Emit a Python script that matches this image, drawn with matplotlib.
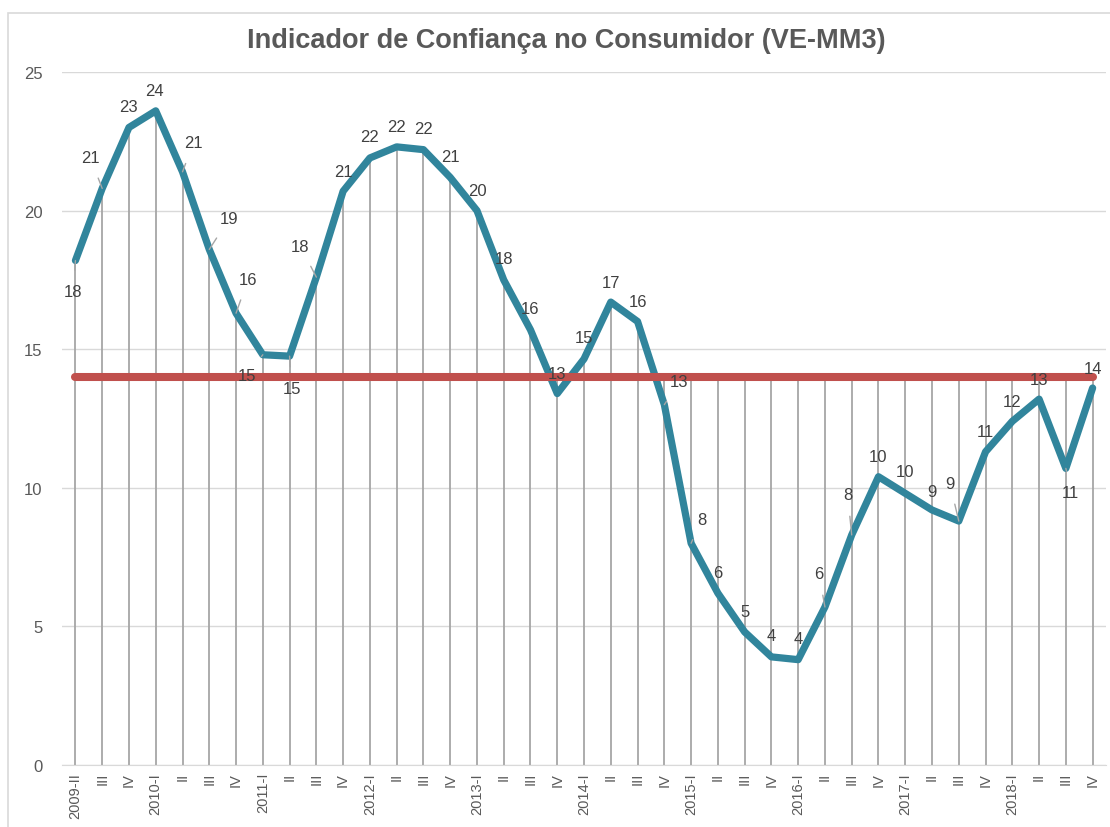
import matplotlib.pyplot as plt
from matplotlib.patches import Rectangle

plt.rcParams['font.family'] = ['Liberation Sans', 'DejaVu Sans']

quarters = ['2009-II', 'III', 'IV',
            '2010-I', 'II', 'III', 'IV',
            '2011-I', 'II', 'III', 'IV',
            '2012-I', 'II', 'III', 'IV',
            '2013-I', 'II', 'III', 'IV',
            '2014-I', 'II', 'III', 'IV',
            '2015-I', 'II', 'III', 'IV',
            '2016-I', 'II', 'III', 'IV',
            '2017-I', 'II', 'III', 'IV',
            '2018-I', 'II', 'III', 'IV']
icc = [18.2, 20.8, 23.0, 23.6, 21.4, 18.6, 16.3, 14.8, 14.75, 17.6,
       20.7, 21.9, 22.3, 22.2, 21.2, 20.0, 17.5, 15.7, 13.4, 14.65,
       16.7, 16.0, 13.0, 8.0, 6.2, 4.8, 3.9, 3.8, 5.7, 8.3,
       10.4, 9.8, 9.2, 8.8, 11.3, 12.4, 13.2, 10.7, 13.6]
media = 14.0

# label offsets in pixels (dx, dy) and whether a leader line is drawn
lab_dx = [-2, -12, -1, -1, 11, 20, 12, -16, 2, -16,
          0, 0, 0, 0, 0, 0, 0, 0, 0, 0,
          0, 0, 15, 11, 0, 0, 0, 0, -6, -4,
          0, 0, 0, -9, 0, 0, 0, 5, 0]
lab_dy = [-31, 31, 21, 20, 29, 31, 34, -21, -32, 31,
          20, 21, 20, 21, 21, 20, 21, 21, 20, 21,
          20, 20, 23, 24, 21, 20, 21, 21, 33, 40,
          20, 22, 18, 38, 20, 20, 20, -24, 20]
leader = [1, 1, 0, 0, 1, 1, 1, 1, 1, 1,
          0, 0, 0, 0, 0, 0, 0, 0, 0, 0,
          0, 0, 1, 1, 0, 0, 0, 0, 1, 1,
          0, 0, 0, 1, 0, 0, 0, 1, 0]

fig = plt.figure(figsize=(11.1, 8.28), dpi=100)
ax = fig.add_axes([0.0559, 0.0749, 0.9405, 0.8369])

x = list(range(len(icc)))
tops = [max(v, media) for v in icc]

ax.vlines(x, 0, tops, color='#A6A6A6', lw=1.3, zorder=1)
ax.plot(x, icc, color='#31859C', lw=5.2, solid_joinstyle='round',
        solid_capstyle='round', zorder=3)
ax.plot([x[0], x[-1]], [media, media], color='#C0504D', lw=5.8,
        solid_capstyle='round', zorder=4)

for i, v in enumerate(icc):
    if leader[i]:
        ax.annotate(str(int(round(v))), xy=(i, v), xytext=(lab_dx[i], lab_dy[i]),
                    textcoords='offset pixels', ha='center', va='center',
                    fontsize=12, color='#404040', zorder=5,
                    arrowprops=dict(arrowstyle='-', color='#A6A6A6', lw=1,
                                    shrinkA=8, shrinkB=0))
    else:
        ax.annotate(str(int(round(v))), xy=(i, v), xytext=(lab_dx[i], lab_dy[i]),
                    textcoords='offset pixels', ha='center', va='center',
                    fontsize=12, color='#404040', zorder=5)

ax.set_xlim(-0.5, len(icc) - 0.5)
ax.set_ylim(0, 25)
ax.set_yticks([0, 5, 10, 15, 20, 25])
ax.set_xticks(x)
ax.set_xticklabels(quarters, rotation=90, fontsize=10.5, color='#595959')
ax.tick_params(axis='y', labelsize=12, labelcolor='#595959', length=0, pad=14)
ax.tick_params(axis='x', length=0, pad=5)
ax.yaxis.grid(True, color='#D9D9D9', lw=1)
ax.set_axisbelow(True)
for s in ['top', 'right', 'left']:
    ax.spines[s].set_visible(False)
ax.spines['bottom'].set_color('#D9D9D9')

fig.text(0.51, 0.950, 'Indicador de Confiança no Consumidor (VE-MM3)',
         ha='center', va='center', fontsize=19.5, fontweight='bold', color='#595959')

fig.patches.append(Rectangle((0.0072, -0.1), 1.2, 1.083, transform=fig.transFigure,
                             fill=False, edgecolor='#D9D9D9', lw=1.2))

fig.savefig('out.png', dpi=100)
